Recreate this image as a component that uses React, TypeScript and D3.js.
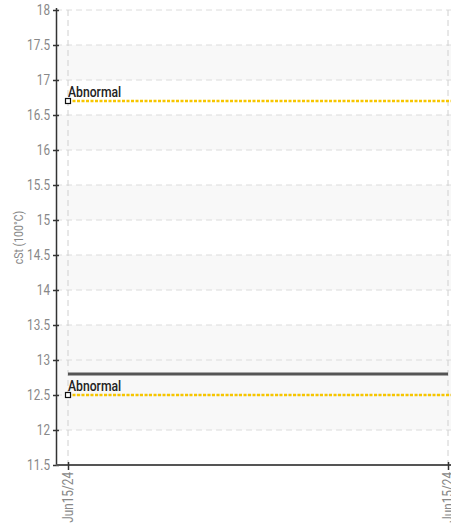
import { useEffect, useRef } from 'react';
import * as d3 from 'd3';

const W = 451;
const H = 526;
const M = { top: 10, right: 2, bottom: 61, left: 56 };

const Y_TICKS = [11.5, 12, 12.5, 13, 13.5, 14, 14.5, 15, 15.5, 16, 16.5, 17, 17.5, 18];
const X_LABELS = ['Jun15/24', 'Jun15/24'];
const SERIES = [12.8, 12.8];
const LIMITS = [
  { label: 'Abnormal', value: 16.7 },
  { label: 'Abnormal', value: 12.5 },
];
// shaded bands [from, to]
const BANDS: [number, number][] = [
  [17, 17.5],
  [16, 16.5],
  [15, 15.5],
  [14, 14.5],
  [12, 13.5],
];

const FONT = 'Roboto, "Liberation Sans", sans-serif';
const SQ = 0.84; // horizontal squeeze, poor man's condensed face

export default function App() {
  const ref = useRef<SVGSVGElement>(null);

  useEffect(() => {
    document.body.style.margin = '0';
    const svg = d3.select(ref.current);
    svg.selectAll('*').remove();

    const x0 = M.left + 12;
    const x1 = W - M.right;
    const x = d3.scaleLinear().domain([0, X_LABELS.length - 1]).range([x0, x1 - 1]);
    const y = d3.scaleLinear().domain([11.5, 18]).range([H - M.bottom, M.top]);

    const g = svg.append('g');

    // bands
    g.selectAll('rect.band')
      .data(BANDS)
      .join('rect')
      .attr('x', M.left)
      .attr('width', W - M.left)
      .attr('y', (d) => y(d[1]))
      .attr('height', (d) => y(d[0]) - y(d[1]))
      .attr('fill', '#f8f8f8');

    // horizontal grid
    g.selectAll('line.hgrid')
      .data(Y_TICKS.filter((t) => t > 11.5))
      .join('line')
      .attr('x1', M.left)
      .attr('x2', W)
      .attr('y1', (d) => y(d))
      .attr('y2', (d) => y(d))
      .attr('stroke', '#dcdcdc')
      .attr('stroke-dasharray', '6,4');

    // vertical grid
    g.selectAll('line.vgrid')
      .data(X_LABELS.map((_, i) => i))
      .join('line')
      .attr('x1', (d) => x(d))
      .attr('x2', (d) => x(d))
      .attr('y1', M.top)
      .attr('y2', H - M.bottom)
      .attr('stroke', '#d0d0d0')
      .attr('stroke-dasharray', '6,4');

    // series line
    const line = d3
      .line<number>()
      .x((_, i) => x(i))
      .y((d) => y(d));
    g.append('path')
      .datum(SERIES)
      .attr('d', line)
      .attr('fill', 'none')
      .attr('stroke', '#555')
      .attr('stroke-width', 3);

    // limit lines
    LIMITS.forEach((l) => {
      g.append('line')
        .attr('x1', x(0))
        .attr('x2', W)
        .attr('y1', y(l.value))
        .attr('y2', y(l.value))
        .attr('stroke', '#f7c600')
        .attr('stroke-width', 2.5)
        .attr('stroke-dasharray', '3,1.5');
      g.append('rect')
        .attr('x', x(0) - 2.5)
        .attr('y', y(l.value) - 2.5)
        .attr('width', 5)
        .attr('height', 5)
        .attr('fill', '#fff')
        .attr('stroke', '#111')
        .attr('stroke-width', 1.2);
      g.append('text')
        .attr('transform', `translate(${x(0)},${y(l.value) - 4}) scale(${SQ},1)`)
        .attr('font-family', FONT)
        .attr('font-size', 14.5)
        .attr('font-weight', 500)
        .attr('fill', '#222')
        .text(l.label);
    });

    // y axis
    const yAxis = g
      .append('g')
      .attr('transform', `translate(${M.left},0)`)
      .call(d3.axisLeft(y).tickValues(Y_TICKS).tickSize(3).tickFormat((d) => String(d)));
    yAxis.select('.domain').attr('stroke', '#333').attr('stroke-width', 1.5).attr('d', `M0.5,${M.top - 2}V${H - M.bottom}`);
    yAxis.selectAll('.tick line').attr('stroke', '#333').attr('stroke-width', 1.5).attr('x1', 3);
    yAxis
      .selectAll('.tick text')
      .attr('x', null)
      .attr('transform', `translate(-6,0) scale(${SQ},1)`)
      .attr('fill', '#888')
      .attr('font-family', FONT)
      .attr('font-size', 14);

    // x axis
    const xAxis = g
      .append('g')
      .attr('transform', `translate(0,${H - M.bottom})`)
      .call(
        d3
          .axisBottom(x)
          .tickValues(X_LABELS.map((_, i) => i))
          .tickSize(5)
          .tickFormat((_, i) => X_LABELS[i])
      );
    xAxis.select('.domain').attr('stroke', '#555').attr('stroke-width', 2).attr('d', `M${M.left},0H${W}`);
    xAxis.selectAll('.tick line').attr('stroke', '#333').attr('stroke-width', 1.5).attr('y1', -3);
    xAxis
      .selectAll('.tick text')
      .attr('transform', `rotate(-90) scale(${SQ},1)`)
      .attr('text-anchor', 'end')
      .attr('x', -7 / SQ)
      .attr('y', 0)
      .attr('dy', '0.35em')
      .attr('fill', '#888')
      .attr('font-family', FONT)
      .attr('font-size', 14);

    // y title
    g.append('text')
      .attr('transform', `translate(23,${y(14.75)}) rotate(-90) scale(${SQ},1)`)
      .attr('text-anchor', 'middle')
      .attr('font-family', FONT)
      .attr('font-size', 12.5)
      .attr('fill', '#888')
      .text('cSt (100°C)');
  }, []);

  return <svg ref={ref} width={W} height={H} style={{ display: 'block' }} />;
}
